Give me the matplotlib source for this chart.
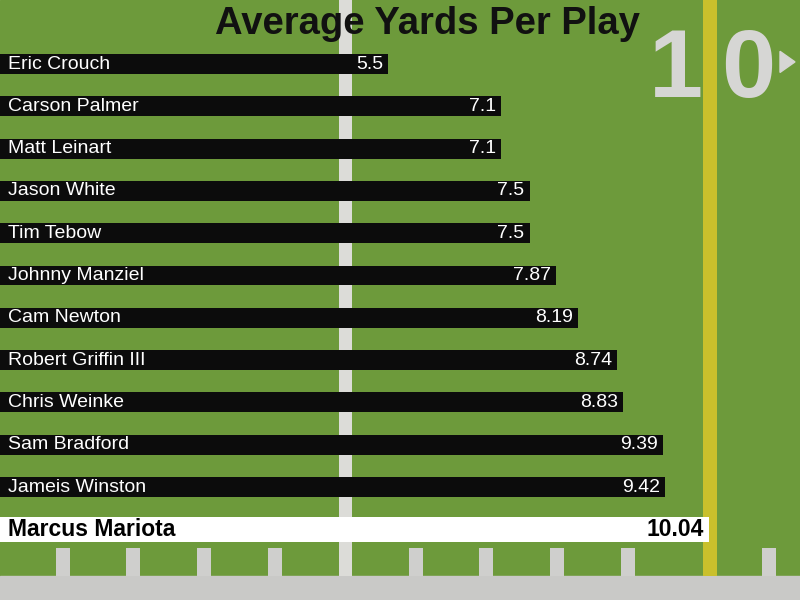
import matplotlib.pyplot as plt
from matplotlib.patches import Rectangle, Polygon

players = ["Eric Crouch", "Carson Palmer", "Matt Leinart", "Jason White", "Tim Tebow",
           "Johnny Manziel", "Cam Newton", "Robert Griffin III", "Chris Weinke",
           "Sam Bradford", "Jameis Winston", "Marcus Mariota"]
ypp = [5.5, 7.1, 7.1, 7.5, 7.5, 7.87, 8.19, 8.74, 8.83, 9.39, 9.42, 10.04]
labels = ["5.5", "7.1", "7.1", "7.5", "7.5", "7.87", "8.19", "8.74", "8.83", "9.39", "9.42", "10.04"]

plt.rcParams['font.family'] = ['Liberation Sans', 'DejaVu Sans']

fig = plt.figure(figsize=(8, 6), dpi=100)
ax = fig.add_axes([0, 0, 1, 1])
ax.set_xlim(0, 800 / 70.6)
ax.set_ylim(12.67, -1.513)
ax.axis("off")

grass = "#6d9a3b"
ax.add_patch(Rectangle((0, 0), 1, 1, transform=ax.transAxes, color=grass, zorder=0))

# field markings
ax.add_patch(Rectangle((0, 0), 1, 0.04, transform=ax.transAxes, color="#c9c9c7", zorder=1))
for k in range(11):
    xh = 0.89 + k
    if k in (4, 9):
        continue
    ax.axvspan(xh - 0.1, xh + 0.1, ymin=0.04, ymax=0.087, color="#cfcfcd", lw=0, zorder=1)
ax.axvspan(4.89 - 0.09, 4.89 + 0.09, ymin=0.04, ymax=1, color="#dcdcd8", lw=0, zorder=1)
ax.axvspan(10.06 - 0.1, 10.06 + 0.1, ymin=0.04, ymax=1, color="#c9c02c", lw=0, zorder=1)

ax.text(676 / 70.6, 0.18, "1", color="#d6d6d4", fontsize=70, fontweight="bold",
        ha="center", va="center", zorder=1)
ax.text(748 / 70.6, 0.18, "0", color="#d6d6d4", fontsize=70, fontweight="bold",
        ha="center", va="center", zorder=1)
ax.add_patch(Polygon([[780 / 70.6, -0.3], [780 / 70.6, 0.2], [795 / 70.6, -0.05]],
                     closed=True, color="#d6d6d4", zorder=1))

ax.text(427 / 70.6, -0.95, "Average Yards Per Play", color="#111111", fontsize=27.5,
        fontweight="bold", ha="center", va="center", zorder=4)

n = len(players)
for i in range(n):
    last = i == n - 1
    ax.barh(i, ypp[i], height=0.59 if last else 0.47,
            color="white" if last else "#0c0c0c", zorder=2)
    tc = "black" if last else "white"
    fw = "bold" if last else "normal"
    fs = 16.5 if last else 14
    ax.text(0.11, i, players[i], color=tc, fontsize=fs, fontweight=fw,
            ha="left", va="center", zorder=3)
    ax.text(ypp[i] - 0.07, i, labels[i], color=tc, fontsize=fs, fontweight=fw,
            ha="right", va="center", zorder=3)

fig.savefig("out.png", dpi=100)
